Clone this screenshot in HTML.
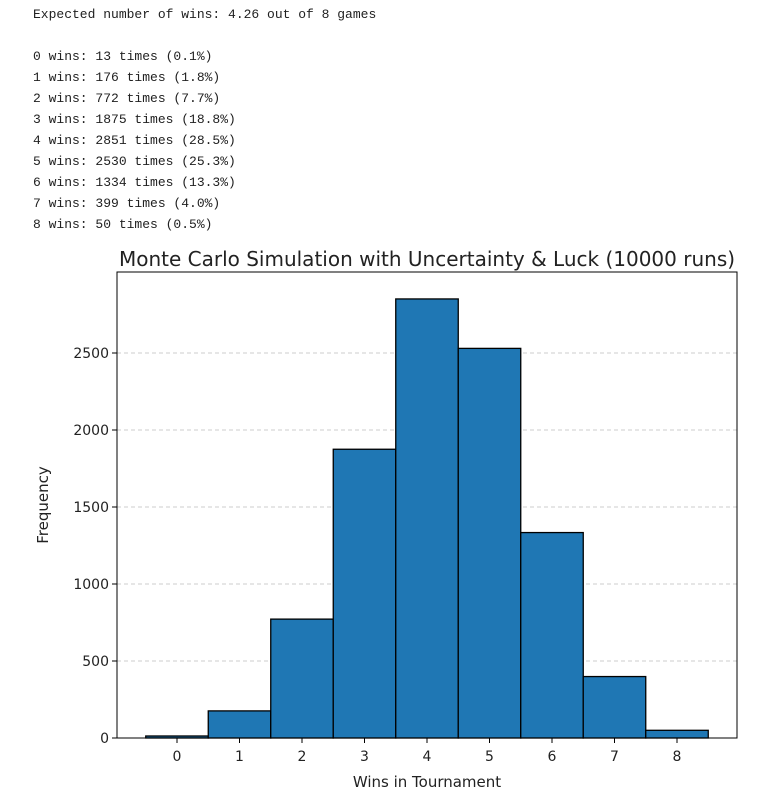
<!DOCTYPE html>
<html><head><meta charset="utf-8"><style>
body{margin:0;background:#fff;width:781px;height:798px;overflow:hidden;position:relative}
pre{position:absolute;left:33px;top:4px;margin:0;font-family:"Liberation Mono","DejaVu Sans Mono",monospace;font-size:13px;line-height:21px;color:#212121}
svg{position:absolute;left:0;top:0}
text{font-family:"DejaVu Sans","Liberation Sans",sans-serif;fill:#222}
</style></head><body>
<pre>Expected number of wins: 4.26 out of 8 games

0 wins: 13 times (0.1%)
1 wins: 176 times (1.8%)
2 wins: 772 times (7.7%)
3 wins: 1875 times (18.8%)
4 wins: 2851 times (28.5%)
5 wins: 2530 times (25.3%)
6 wins: 1334 times (13.3%)
7 wins: 399 times (4.0%)
8 wins: 50 times (0.5%)</pre>
<svg id="chart" width="781" height="798"></svg>
<script>
const categories=[0,1,2,3,4,5,6,7,8];
const counts=[13,176,772,1875,2851,2530,1334,399,50];
const yTicks=[0,500,1000,1500,2000,2500];
const L=117,R=737,T=272,B=738;
const xS=v=>177+(v-0)*62.5;
const yS=v=>B-v*0.154;
const svg=document.getElementById('chart');
const NS='http://www.w3.org/2000/svg';
function mk(t,a){const e=document.createElementNS(NS,t);for(const k in a)e.setAttribute(k,a[k]);svg.appendChild(e);return e;}
yTicks.forEach(v=>{
  if(v>0){const g=mk('line',{x1:L,x2:R,y1:yS(v),y2:yS(v),stroke:'#ccc','stroke-dasharray':'4,3','stroke-width':1});
  
  }
  const t=mk('line',{x1:L-5,x2:L,y1:yS(v),y2:yS(v),stroke:'#000'});
  
  
  const l=mk('text',{x:L-8,y:yS(v)+5,'text-anchor':'end','font-size':14});l.textContent=v;
  
  
});
categories.forEach((c,i)=>{
  const x0=xS(c-0.5),x1=xS(c+0.5);
  const r=mk('rect',{x:x0,y:yS(counts[i]),width:x1-x0,height:B-yS(counts[i]),fill:'#1f77b4',stroke:'#000','stroke-width':1.3});
  
  
  const t=mk('line',{x1:xS(c),x2:xS(c),y1:B,y2:B+5,stroke:'#000'});
  
  
  const l=mk('text',{x:xS(c),y:B+23,'text-anchor':'middle','font-size':14});l.textContent=c;
  
  
});
const f=mk('rect',{x:L,y:T,width:R-L,height:B-T,fill:'none',stroke:'#000','stroke-width':1});


const ti=mk('text',{x:(L+R)/2,y:266,'text-anchor':'middle','font-size':20});ti.textContent='Monte Carlo Simulation with Uncertainty & Luck (10000 runs)';


const xl=mk('text',{x:(L+R)/2,y:787,'text-anchor':'middle','font-size':15});xl.textContent='Wins in Tournament';


const yl=mk('text',{x:0,y:0,'text-anchor':'middle','font-size':15,transform:'translate(48,'+((T+B)/2)+') rotate(-90)'});yl.textContent='Frequency';


</script>
</body></html>
